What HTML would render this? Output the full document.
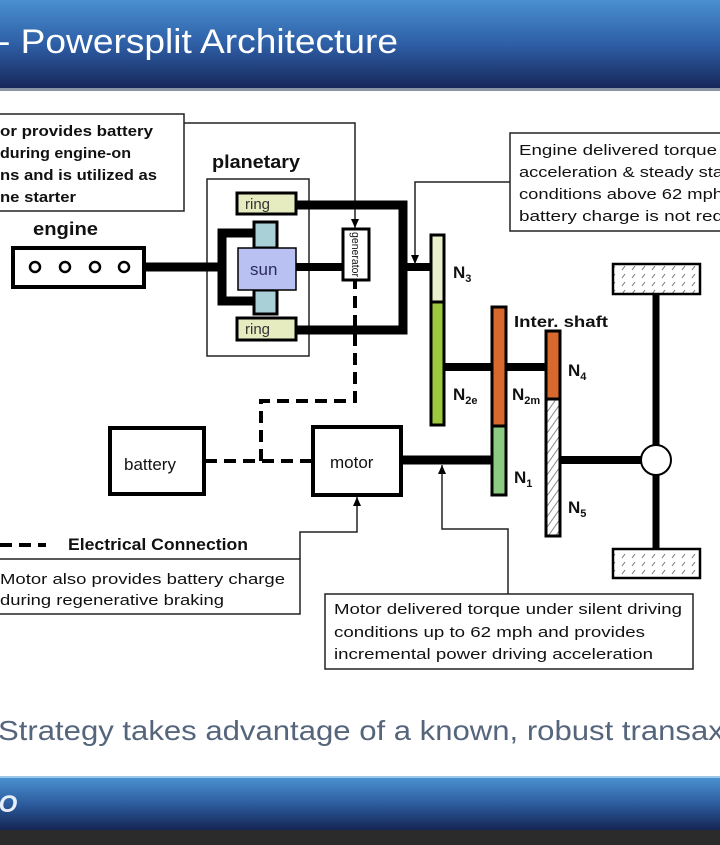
<!DOCTYPE html>
<html><head><meta charset="utf-8"><style>
html,body{margin:0;padding:0;background:#fff;}
svg{display:block;}
</style></head><body>
<svg width="720" height="845" viewBox="0 0 720 845" xmlns="http://www.w3.org/2000/svg" font-family="Liberation Sans, Arial, sans-serif">
<defs>
<linearGradient id="hdr" x1="0" y1="0" x2="0" y2="1">
<stop offset="0" stop-color="#4a90d0"/><stop offset="0.5" stop-color="#2e5fa6"/><stop offset="1" stop-color="#17285a"/>
</linearGradient>
<linearGradient id="ftr" x1="0" y1="0" x2="0" y2="1">
<stop offset="0" stop-color="#4a90d0"/><stop offset="0.5" stop-color="#2c5c9e"/><stop offset="1" stop-color="#152553"/>
</linearGradient>
<pattern id="hatch" width="6" height="6" patternUnits="userSpaceOnUse" patternTransform="rotate(35)">
<rect width="6" height="6" fill="#fff"/><line x1="0" y1="0" x2="0" y2="6" stroke="#888" stroke-width="2"/>
</pattern>
<pattern id="dots" width="10" height="8" patternUnits="userSpaceOnUse">
<rect width="10" height="8" fill="#fff"/><line x1="2" y1="6" x2="5" y2="2" stroke="#777" stroke-width="1"/>
</pattern>
<marker id="ar" markerWidth="9" markerHeight="8" refX="9" refY="4" orient="auto" markerUnits="userSpaceOnUse">
<path d="M0,0 L9,4 L0,8 z" fill="#000"/>
</marker>
</defs>

<!-- header -->
<rect x="0" y="0" width="720" height="88" fill="url(#hdr)"/>
<rect x="0" y="88" width="720" height="3" fill="#8a95a5"/>
<text x="-2" y="53" font-size="34" fill="#fff" textLength="400" lengthAdjust="spacingAndGlyphs">- Powersplit Architecture</text>

<!-- footer -->
<text x="-2" y="740" font-size="28" fill="#55657c" textLength="750" lengthAdjust="spacingAndGlyphs">Strategy takes advantage of a known, robust transaxle</text>
<rect x="0" y="778" width="720" height="52" fill="url(#ftr)"/>
<rect x="0" y="776" width="720" height="2" fill="#9cc8e8"/>
<rect x="0" y="830" width="720" height="15" fill="#2b2b2b"/>
<text x="-8" y="812" font-size="24" font-weight="bold" font-style="italic" fill="#e8eef8">IO</text>

<g font-weight="bold" fill="#111">
<!-- top-left callout -->
<rect x="-2" y="114" width="186" height="97" fill="#fff" stroke="#222" stroke-width="1.5"/>
<text x="0" y="136" font-size="15" textLength="153" lengthAdjust="spacingAndGlyphs">or provides battery</text>
<text x="0" y="158" font-size="15" textLength="131" lengthAdjust="spacingAndGlyphs">during engine-on</text>
<text x="0" y="180" font-size="15" textLength="157" lengthAdjust="spacingAndGlyphs">ns and is utilized as</text>
<text x="0" y="202" font-size="15" textLength="76" lengthAdjust="spacingAndGlyphs">ne starter</text>
<polyline points="184,123 355,123 355,228" fill="none" stroke="#222" stroke-width="1.5" marker-end="url(#ar)"/>

<text x="212" y="168" font-size="18" textLength="88" lengthAdjust="spacingAndGlyphs">planetary</text>
<text x="33" y="235" font-size="18" textLength="65" lengthAdjust="spacingAndGlyphs">engine</text>

<!-- engine -->
<rect x="13" y="248" width="131" height="39" fill="#fff" stroke="#000" stroke-width="4"/>
<g fill="none" stroke="#000" stroke-width="2.5">
<circle cx="35" cy="267" r="5"/><circle cx="65" cy="267" r="5"/><circle cx="95" cy="267" r="5"/><circle cx="124" cy="267" r="5"/>
</g>
<!-- planetary box -->
<rect x="207" y="179" width="102" height="177" fill="none" stroke="#222" stroke-width="1.5"/>
<line x1="144" y1="267" x2="222" y2="267" stroke="#000" stroke-width="9"/>
<polyline points="254,233 222,233 222,301 254,301" fill="none" stroke="#000" stroke-width="9"/>
<!-- planets -->
<rect x="254" y="222" width="23" height="26" fill="#a9d0d6" stroke="#000" stroke-width="3"/>
<rect x="254" y="290" width="23" height="24" fill="#a9d0d6" stroke="#000" stroke-width="3"/>
<!-- rings -->
<rect x="237" y="193" width="59" height="21" fill="#e6ecc0" stroke="#000" stroke-width="3"/>
<text x="245" y="209" font-size="15" font-weight="normal" fill="#333">ring</text>
<rect x="237" y="318" width="59" height="22" fill="#e6ecc0" stroke="#000" stroke-width="3"/>
<text x="245" y="334" font-size="15" font-weight="normal" fill="#333">ring</text>
<!-- sun -->
<rect x="238" y="248" width="58" height="42" fill="#b9c0f2" stroke="#000" stroke-width="1.5"/>
<text x="250" y="275" font-size="17" font-weight="normal" fill="#2a2a60">sun</text>
<!-- ring shafts -->
<polyline points="296,205 403,205 403,330 296,330" fill="none" stroke="#000" stroke-width="9"/>
<line x1="296" y1="267" x2="343" y2="267" stroke="#000" stroke-width="8"/>
<line x1="403" y1="267" x2="432" y2="267" stroke="#000" stroke-width="8"/>
<!-- generator -->
<rect x="343" y="229" width="26" height="51" fill="#fff" stroke="#000" stroke-width="3"/>
<text transform="translate(352,232) rotate(90)" font-size="11" font-weight="normal" fill="#111" textLength="45" lengthAdjust="spacingAndGlyphs">generator</text>

<!-- engine callout right -->
<rect x="510" y="133" width="214" height="98" fill="#fff" stroke="#222" stroke-width="1.5"/>
<text x="519" y="155" font-size="15" font-weight="normal" textLength="198" lengthAdjust="spacingAndGlyphs">Engine delivered torque</text>
<text x="519" y="177" font-size="15" font-weight="normal" textLength="204" lengthAdjust="spacingAndGlyphs">acceleration &amp; steady sta</text>
<text x="519" y="199" font-size="15" font-weight="normal" textLength="204" lengthAdjust="spacingAndGlyphs">conditions above 62 mph</text>
<text x="519" y="221" font-size="15" font-weight="normal" textLength="204" lengthAdjust="spacingAndGlyphs">battery charge is not req</text>
<polyline points="510,182 415,182 415,264" fill="none" stroke="#222" stroke-width="1.5" marker-end="url(#ar)"/>

<!-- N3/N2e gear -->
<rect x="431" y="235" width="13" height="67" fill="#eaf0cc" stroke="#000" stroke-width="3"/>
<rect x="431" y="302" width="13" height="123" fill="#9cc83e" stroke="#000" stroke-width="3"/>
<text x="453" y="278" font-size="17">N<tspan font-size="11" dy="4">3</tspan></text>
<text x="453" y="400" font-size="17">N<tspan font-size="11" dy="4">2e</tspan></text>
<line x1="444" y1="367" x2="548" y2="367" stroke="#000" stroke-width="8"/>
<!-- N2m/N1 gear -->
<rect x="492" y="307" width="14" height="119" fill="#d8692e" stroke="#000" stroke-width="3"/>
<rect x="492" y="426" width="14" height="69" fill="#8ccc82" stroke="#000" stroke-width="3"/>
<text x="514" y="327" font-size="16" textLength="94" lengthAdjust="spacingAndGlyphs">Inter. shaft</text>
<text x="512" y="400" font-size="17">N<tspan font-size="11" dy="4">2m</tspan></text>
<text x="514" y="483" font-size="17">N<tspan font-size="11" dy="4">1</tspan></text>
<!-- N4/N5 -->
<rect x="546" y="331" width="14" height="70" fill="#d8692e" stroke="#000" stroke-width="3"/>
<rect x="546" y="399" width="14" height="137" fill="url(#hatch)" stroke="#000" stroke-width="3"/>
<text x="568" y="376" font-size="17">N<tspan font-size="11" dy="4">4</tspan></text>
<text x="568" y="513" font-size="17">N<tspan font-size="11" dy="4">5</tspan></text>

<!-- axle and wheels -->
<line x1="656" y1="294" x2="656" y2="550" stroke="#000" stroke-width="7"/>
<line x1="560" y1="460" x2="642" y2="460" stroke="#000" stroke-width="8"/>
<circle cx="656" cy="460" r="15" fill="#fff" stroke="#000" stroke-width="2"/>
<rect x="613" y="264" width="87" height="30" fill="url(#dots)" stroke="#000" stroke-width="2.5"/>
<rect x="613" y="549" width="87" height="29" fill="url(#dots)" stroke="#000" stroke-width="2.5"/>

<!-- battery & motor -->
<rect x="110" y="428" width="94" height="66" fill="#fff" stroke="#000" stroke-width="4"/>
<text x="124" y="470" font-size="17" font-weight="normal">battery</text>
<rect x="313" y="427" width="88" height="68" fill="#fff" stroke="#000" stroke-width="4"/>
<text x="330" y="468" font-size="17" font-weight="normal">motor</text>
<line x1="401" y1="460" x2="492" y2="460" stroke="#000" stroke-width="9"/>
<g fill="none" stroke="#000" stroke-width="4" stroke-dasharray="12,7">
<line x1="205" y1="461" x2="312" y2="461"/>
<polyline points="261,461 261,401 355,401 355,280"/>
<line x1="0" y1="545" x2="46" y2="545"/>
</g>
<text x="68" y="550" font-size="17" textLength="180" lengthAdjust="spacingAndGlyphs">Electrical Connection</text>

<!-- bottom-left callout -->
<rect x="-2" y="559" width="302" height="55" fill="#fff" stroke="#222" stroke-width="1.5"/>
<text x="0" y="584" font-size="15" font-weight="normal" textLength="285" lengthAdjust="spacingAndGlyphs">Motor also provides battery charge</text>
<text x="0" y="605" font-size="15" font-weight="normal" textLength="224" lengthAdjust="spacingAndGlyphs">during regenerative braking</text>
<polyline points="300,559 300,532 357,532 357,497" fill="none" stroke="#222" stroke-width="1.5" marker-end="url(#ar)"/>

<!-- bottom-right callout -->
<rect x="325" y="594" width="368" height="75" fill="#fff" stroke="#222" stroke-width="1.5"/>
<text x="334" y="614" font-size="15" font-weight="normal" textLength="348" lengthAdjust="spacingAndGlyphs">Motor delivered torque under silent driving</text>
<text x="334" y="637" font-size="15" font-weight="normal" textLength="311" lengthAdjust="spacingAndGlyphs">conditions up to 62 mph and provides</text>
<text x="334" y="659" font-size="15" font-weight="normal" textLength="319" lengthAdjust="spacingAndGlyphs">incremental power driving acceleration</text>
<polyline points="508,594 508,529 442,529 442,465" fill="none" stroke="#222" stroke-width="1.5" marker-end="url(#ar)"/>
</g>
</svg>
</body></html>
